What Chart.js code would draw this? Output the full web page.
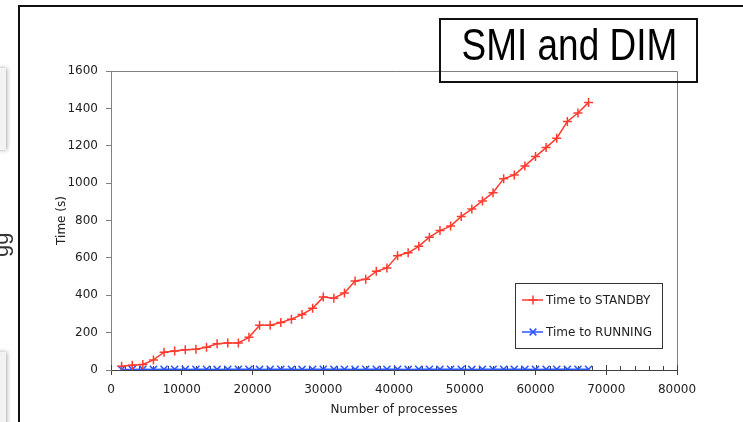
<!DOCTYPE html>
<html>
<head>
<meta charset="utf-8">
<script src="https://cdn.jsdelivr.net/npm/chart.js@4.4.0/dist/chart.umd.min.js"></script>
<style>
  html, body { margin: 0; padding: 0; background: #fff; }
  body { width: 743px; height: 422px; position: relative; overflow: hidden; }
  #graphCanvas { position: absolute; left: 0; top: 0; }
  .frame { position: absolute; left: 18px; top: 5px; width: 800px; height: 500px;
           border-left: 2px solid #111; border-top: 2px solid #111; }
  .title { position: absolute; left: 439px; top: 18px; width: 255px; height: 61px;
           border: 2px solid #111; color: #000; text-align: center; line-height: 61px;
           white-space: nowrap; font: 44px "Liberation Sans", sans-serif; }
  .title span { display: inline-block; transform: scaleX(0.84); }
  .side { position: absolute; left: -4px; width: 10px; background: #f3f3f3;
          box-shadow: 1px 0 4px rgba(0,0,0,0.35); }
  .gg { position: absolute; left: 0; top: 0; color: #333; line-height: 25px;
        font: 22px/25px "Liberation Sans", sans-serif; transform-origin: 0 0;
        transform: translate(-12px, 257px) rotate(-90deg); }
</style>
</head>
<body>
<canvas id="graphCanvas" width="743" height="422"></canvas>
<div class="side" style="top:68px;height:82px"></div>
<div class="side" style="top:352px;height:80px"></div>
<div class="gg">gg</div>
<div class="frame"></div>
<div class="title"><span>SMI and DIM</span></div>
<script>
// number of processes for every measurement
const processes = [1500, 3000, 4500, 6000, 7500, 9000, 10500, 12000, 13500, 15000,
  16500, 18000, 19500, 21000, 22500, 24000, 25500, 27000, 28500, 30000,
  31500, 33000, 34500, 36000, 37500, 39000, 40500, 42000, 43500, 45000,
  46500, 48000, 49500, 51000, 52500, 54000, 55500, 57000, 58500, 60000,
  61500, 63000, 64500, 66000, 67500]
const standbyTime = [20, 25, 30, 54, 95, 102, 108, 111, 122, 140,
  145, 145, 175, 240, 240, 254, 272, 297, 330, 390,
  384, 412, 476, 485, 528, 546, 612, 627, 662, 711,
  746, 770, 822, 861, 905, 949, 1024, 1043, 1092, 1142,
  1190, 1240, 1330, 1375, 1432]
const runningTime = [3, 3, 4, 3, 4, 4, 3, 4, 4, 3,
  4, 4, 4, 3, 4, 4, 4, 3, 4, 4,
  4, 4, 3, 4, 4, 4, 4, 3, 4, 4,
  4, 4, 4, 3, 4, 4, 4, 4, 4, 3,
  4, 4, 4, 4, 4]
const xTickValues = [0, 10000, 20000, 30000, 40000, 50000, 60000, 70000, 80000]
const yTickValues = [0, 200, 400, 600, 800, 1000, 1200, 1400, 1600]
const xMinorStep = 2000

const FONT = { family: 'DejaVu Sans', size: 12 }

function toPoints(ys) {
    var pts = []
    for (var i in processes) {
        pts.push({ x: processes[i], y: ys[i] })
    }
    return pts
}

function drawMarker(ctx, style, x, y, r) {
    ctx.beginPath()
    if (style === 'cross') {
        ctx.moveTo(x - r, y); ctx.lineTo(x + r, y)
        ctx.moveTo(x, y - r); ctx.lineTo(x, y + r)
    } else {
        var d = r * 0.75
        ctx.moveTo(x - d, y - d); ctx.lineTo(x + d, y + d)
        ctx.moveTo(x - d, y + d); ctx.lineTo(x + d, y - d)
    }
    ctx.stroke()
}

// plot frame, excel style x ticks and the boxed legend
const extras = {
    id: 'extras',
    beforeDatasetsDraw(chart) {
        const ctx = chart.ctx
        const a = chart.chartArea
        const xs = chart.scales.x
        ctx.save()
        ctx.strokeStyle = '#808080'
        ctx.lineWidth = 1
        ctx.beginPath()
        ctx.moveTo(a.left, a.top + 0.5)
        ctx.lineTo(a.right + 0.5, a.top + 0.5)
        ctx.lineTo(a.right + 0.5, a.bottom)
        ctx.stroke()
        ctx.strokeStyle = '#404040'
        ctx.beginPath()
        for (var v = 0; v <= xs.max; v += xMinorStep) {
            const px = Math.round(xs.getPixelForValue(v)) + 0.5
            const up = (v % 10000 === 0) ? 5 : 4
            ctx.moveTo(px, a.bottom)
            ctx.lineTo(px, a.bottom - up)
        }
        ctx.stroke()
        ctx.restore()
    },
    afterDraw(chart) {
        const ctx = chart.ctx
        ctx.save()
        ctx.fillStyle = '#fff'
        ctx.fillRect(515.5, 283.5, 147, 65)
        ctx.strokeStyle = '#333'
        ctx.lineWidth = 1
        ctx.strokeRect(515.5, 283.5, 147, 65)
        ctx.font = '12px "DejaVu Sans"'
        ctx.textBaseline = 'middle'
        chart.data.datasets.forEach(function (ds, i) {
            const y = 300 + i * 32
            ctx.strokeStyle = ds.borderColor
            ctx.lineWidth = 1.5
            ctx.beginPath()
            ctx.moveTo(522, y)
            ctx.lineTo(543, y)
            ctx.stroke()
            drawMarker(ctx, ds.pointStyle, 533, y, 4.5)
            ctx.fillStyle = '#222'
            ctx.fillText(ds.label, 546, y + 1)
        })
        ctx.restore()
    }
}

const graphTarget = document.getElementById('graphCanvas')
new Chart(graphTarget, {
    type: 'scatter',
    data: {
        datasets: [
            {
                label: 'Time to STANDBY',
                data: toPoints(standbyTime),
                showLine: true,
                borderColor: '#ff3b30',
                backgroundColor: '#ff3b30',
                borderWidth: 1.5,
                pointStyle: 'cross',
                pointRadius: 4.5,
                pointBorderWidth: 1.5
            },
            {
                label: 'Time to RUNNING',
                data: toPoints(runningTime),
                showLine: true,
                borderColor: '#2b55ff',
                backgroundColor: '#2b55ff',
                borderWidth: 1.5,
                pointStyle: 'crossRot',
                pointRadius: 5,
                pointBorderWidth: 1.5
            }
        ]
    },
    options: {
        responsive: false,
        animation: false,
        layout: { padding: { left: 20, top: 71, right: 66, bottom: 0 } },
        plugins: { legend: { display: false }, tooltip: { enabled: false } },
        scales: {
            x: {
                type: 'linear',
                min: 0,
                max: 80000,
                afterFit: function (s) { s.height = 52 },
                afterBuildTicks: function (s) { s.ticks = xTickValues.map(v => ({ value: v })) },
                ticks: { font: FONT, color: '#222', padding: 8, maxRotation: 0, callback: v => String(v) },
                grid: { drawOnChartArea: false, drawTicks: true, tickLength: 5, color: '#404040' },
                border: { color: '#404040', width: 1 },
                title: { display: true, text: 'Number of processes', font: FONT, color: '#222', padding: { top: 0, bottom: 5 } }
            },
            y: {
                min: 0,
                max: 1600,
                afterFit: function (s) { s.width = 91 },
                afterBuildTicks: function (s) { s.ticks = yTickValues.map(v => ({ value: v })) },
                ticks: { font: FONT, color: '#222', padding: 8, callback: v => String(v) },
                grid: { drawOnChartArea: false, drawTicks: true, tickLength: 5, color: '#808080' },
                border: { color: '#808080', width: 1 },
                title: { display: true, text: 'Time (s)', font: FONT, color: '#222', padding: { top: 35, bottom: 0 } }
            }
        }
    },
    plugins: [extras]
})
</script>
</body>
</html>
